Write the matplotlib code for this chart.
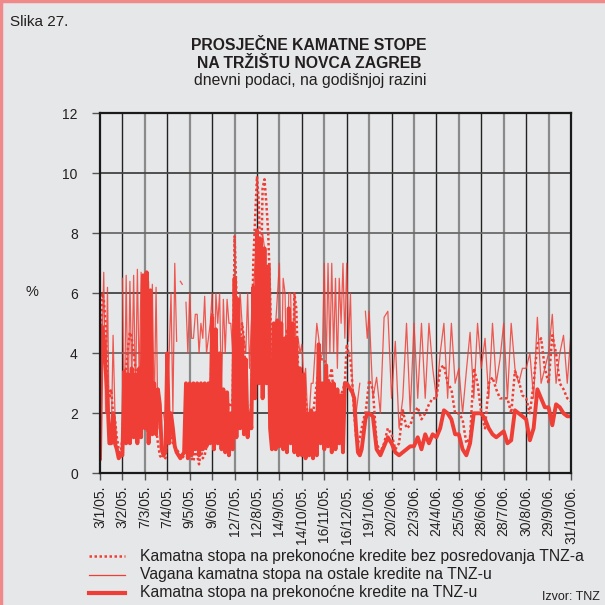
import numpy as np
import matplotlib
matplotlib.use("Agg")
import matplotlib.pyplot as plt
from matplotlib.lines import Line2D

plt.rcParams['font.family'] = ['Liberation Sans', 'DejaVu Sans']

nan = np.nan

tick_labels = ["3/1/05.", "3/2/05.", "7/3/05.", "7/4/05.", "9/5/05.", "9/6/05.",
               "12/7/05.", "12/8/05.", "14/9/05.", "14/10/05.", "16/11/05.",
               "16/12/05.", "19/1/06.", "20/2/06.", "22/3/06.", "24/4/06.",
               "25/5/06.", "28/6/06.", "28/7/06.", "30/8/06.", "29/9/06.", "31/10/06."]

# ---- first 12 tick intervals (12 readings per interval) ----
# Kamatna stopa na prekonoćne kredite na TNZ-u (thick)
thick_a = [0.5, 4.9, 4.5, 3.5, 2.5, 1.0, 1.0, 2.0, 1.0, 0.8, 0.5, 0.6,
           0.6, 3.4, 1.0, 3.3, 1.0, 3.5, 1.2, 3.3, 1.0, 3.5, 1.2, 6.6,
           1.5, 6.7, 1.0, 6.1, 1.3, 3.0, 1.3, 2.8, 2.3, 0.8, 0.6, 0.7,
           4.0, 1.0, 2.0, 1.5, 0.9, 0.7, 0.6, 0.5, 0.6, 0.7, 3.0, 0.5,
           3.0, 0.6, 3.0, 0.8, 3.0, 0.6, 3.0, 0.8, 3.0, 0.9, 3.0, 1.0,
           5.2, 0.8, 4.8, 1.0, 4.0, 0.8, 2.8, 0.7, 2.7, 0.6, 2.0, 0.8,
           6.5, 1.2, 5.8, 1.5, 4.5, 1.3, 3.8, 1.2, 2.0, 1.5, 6.2, 2.5,
           8.1, 3.0, 7.8, 2.5, 7.5, 3.0, 6.9, 1.5, 0.8, 5.0, 0.8, 5.1,
           0.9, 5.0, 0.8, 4.5, 0.7, 5.5, 1.0, 5.0, 0.7, 4.5, 0.6, 3.5,
           0.6, 3.3, 0.5, 2.0, 0.6, 2.1, 0.5, 2.0, 0.6, 4.3, 1.0, 3.0,
           0.8, 3.6, 0.9, 3.0, 0.7, 3.0, 0.8, 2.8, 1.0, 2.6, 0.7, 3.0,
           3.0, 2.9, 2.8, 2.7, 2.5, 1.5, 0.7, 0.6, 0.8, 1.3, 1.8, 2.0]

# Kamatna stopa na prekonoćne kredite bez posredovanja TNZ-a (dotted)
dotted_a = [0.4, 6.0, 5.8, 5.0, 3.0, 2.5, 2.8, 2.0, 1.8, 1.2, 0.8, 0.6,
            1.2, 3.0, 3.5, 4.2, 4.7, 4.5, 4.0, 3.5, 2.8, 2.5, 2.0, 2.0,
            2.2, 1.5, 1.2, 1.5, 2.5, 2.0, 1.5, 1.0, 0.6, 0.5, 0.6, 0.5,
            1.5, 1.3, 1.2, 1.0, 0.9, 0.8, 0.7, 0.6, 0.5, 0.6, 0.7, 0.6,
            0.6, 0.5, 0.4, 0.8, 0.6, 0.3, 0.8, 0.5, 0.6, 0.9, 1.5, 2.0,
            5.3, 4.0, 3.0, 2.8, 2.5, 2.0, 1.5, 1.8, 2.0, 2.3, 2.2, 2.5,
            7.9, 6.0, 4.5, 4.0, 5.0, 4.5, 3.0, 2.0, 1.5, 2.5, 7.0, 8.5,
            9.9, 9.0, 6.0, 9.5, 9.8, 9.0, 8.0, 6.0, 2.7, 3.5, 5.0, 4.5,
            4.0, 3.5, 2.5, 4.0, 4.8, 4.5, 3.0, 2.5, 6.0, 5.5, 3.5, 3.2,
            3.2, 3.0, 2.5, 2.0, 1.8, 1.5, 2.0, 2.5, 3.0, 3.5, 3.8, 3.8,
            3.8, 3.5, 3.0, 3.2, 3.5, 2.5, 2.0, 2.2, 2.5, 2.6, 2.8, 3.0,
            4.3, 4.0, 3.8, 3.0, 2.0, 1.2, 1.0, 1.2, 1.5, 1.8, 2.0, 2.5]

# Vagana kamatna stopa na ostale kredite na TNZ-u (thin)
thin_a = [6.0, 4.0, 6.7, 2.0, 6.2, 1.2, 1.0, 4.6, 2.0, 1.0, nan, nan,
          6.5, 1.5, 6.6, 2.0, 6.4, 3.0, 6.6, 2.5, 6.8, 3.0, 6.7, 3.0,
          6.7, 3.0, 6.4, 2.5, 6.3, 2.0, 6.2, 1.5, nan, nan, 2.0, 1.5,
          2.2, 4.0, 6.0, 2.0, 7.0, 4.4, nan, 6.4, 6.3, nan, 5.7, 4.0,
          6.0, 4.5, 4.5, 5.3, 5.3, 4.0, 5.0, 4.5, 5.9, 4.0, 4.5, 5.0,
          6.0, 3.0, 6.0, 5.0, 6.0, 2.5, 5.8, 4.0, 5.8, 5.0, 5.0, 4.0,
          6.5, 4.0, 5.5, 6.0, 5.0, 4.5, 4.0, 6.0, 3.5, 5.0, 6.0, 7.0,
          8.0, 7.0, 7.5, 8.0, 7.5, 6.5, 6.5, 7.0, 2.0, 4.0, 5.0, 6.0,
          7.0, 3.0, 6.5, 6.0, 2.5, 6.0, 6.0, 3.0, 6.0, 4.0, 4.5, 4.0,
          4.3, 3.0, 3.5, 2.0, 2.0, 3.0, 3.0, 4.0, 5.0, 4.5, 3.8, 4.0,
          7.0, 3.5, 7.0, 4.0, 7.0, 4.0, 6.5, 3.5, 6.5, 5.0, 7.0, 4.5,
          7.0, 4.4, 6.0, 3.0, 2.5, 2.0, 2.5, 3.0, nan, nan, 5.4, 4.5]

# ---- last 9 tick intervals (6 readings per interval, plus the final day) ----
thick_b = [2.0, 1.9, 0.8, 0.6, 0.9, 1.2,
           1.0, 0.7, 0.6, 0.7, 0.8, 0.9,
           0.9, 1.2, 0.8, 1.3, 1.0, 1.3,
           1.2, 1.5, 2.1, 2.0, 1.8, 1.3,
           1.3, 0.8, 0.6, 1.0, 2.0, 2.0,
           2.0, 1.8, 1.5, 1.3, 1.2, 1.3,
           1.4, 1.0, 1.1, 2.1, 2.0, 1.9,
           1.8, 1.1, 1.5, 2.8, 2.5, 2.2,
           2.2, 1.6, 2.3, 2.2, 2.0, 1.9,
           1.9]

dotted_b = [3.1, 2.8, 1.0, 0.7, 1.0, 1.5,
            1.3, 0.8, 1.0, 2.1, 1.5, 1.6,
            2.0, 2.2, 1.8, 2.0, 2.3, 2.5,
            2.5, 3.5, 3.6, 3.0, 2.8, 2.0,
            2.0, 1.8, 1.0, 1.2, 3.5, 3.0,
            2.0, 1.5, 3.0, 3.2, 2.8, 2.5,
            2.5, 2.5, 2.0, 3.4, 3.1, 2.6,
            2.5, 2.0, 3.0, 4.3, 4.5, 3.5,
            3.0, 4.6, 4.0, 3.0, 2.8, 2.5,
            2.4]

thin_b = [5.4, 2.5, 3.2, 2.0, 5.2, 5.4,
          2.5, 4.4, 1.5, 2.5, 5.0, 2.0,
          5.0, 2.5, 5.0, 2.5, 5.0, 3.5,
          2.5, 4.0, 5.0, 2.5, 5.0, 3.0,
          3.5, 2.0, 3.4, 4.7, 2.5, 5.0,
          3.5, 4.5, 2.5, 5.0, 3.0, 3.8,
          5.0, 2.5, 5.0, 3.5, 3.0, 3.5,
          3.5, 4.0, 2.5, 5.2, 3.0, 3.5,
          4.0, 5.3, 3.0, 4.0, 4.6, 3.0,
          4.7]

W, H = 605, 605
fig = plt.figure(figsize=(W / 100, H / 100), dpi=100)
bg = '#e6e7e8'
fig.patch.set_facecolor(bg)

ax = fig.add_axes([100 / W, 1 - 473.3 / H, 471 / W, 360 / H])
ax.set_facecolor(bg)

n_int = len(tick_labels) - 1
n_a = len(thick_a) // 12
x = np.concatenate([np.arange(len(thick_a)) / 12.0,
                    n_a + np.arange(len(thick_b)) / 6.0])
thick = np.array(thick_a + thick_b)
dotted = np.array(dotted_a + dotted_b)
thin = np.array(thin_a + thin_b)

red = '#ef3e36'
ax.plot(x, thin, color=red, lw=0.9, alpha=0.85, zorder=3)
ax.plot(x, dotted, color=red, lw=1.8, ls=(0, (1, 1)), zorder=4)
ax.plot(x, thick, color=red, lw=2.8, zorder=5)

ax.set_xlim(0, n_int)
ax.set_ylim(0, 12)

# grid
for i in range(1, n_int):
    c = '#222222' if i % 2 == 1 else '#8a8a8a'
    w = 1.0 if i % 2 == 1 else 1.6
    ax.axvline(i, color=c, lw=w, zorder=1)
for v in [2, 4, 6, 8, 10]:
    c = '#444444' if v in (2, 6, 10) else '#6a6a6a'
    ax.axhline(v, color=c, lw=1.3, zorder=1)

for s in ax.spines.values():
    s.set_color('#1a1a1a')
    s.set_linewidth(1.6)
    s.set_zorder(6)

ax.set_yticks(range(0, 13, 2))
ax.set_xticks(range(n_int + 1))
ax.set_xticklabels(tick_labels, rotation=90, fontsize=10, color='#231f20')
ax.tick_params(axis='y', length=6, width=1, color='#555555', pad=10,
               labelsize=10, labelcolor='#231f20')
ax.tick_params(axis='x', length=5, width=1, color='#555555', pad=4)

fig.text(32 / W, 1 - 292 / H, '%', fontsize=10.5, ha='center', va='center', color='#231f20')

# titles
fig.text(10 / W, 1 - 22 / H, 'Slika 27.', fontsize=11, ha='left', va='center', color='#231f20')
fig.text(309 / W, 1 - 45 / H, 'PROSJEČNE KAMATNE STOPE', fontsize=11.3, fontweight='bold',
         ha='center', va='center', color='#231f20')
fig.text(309 / W, 1 - 63 / H, 'NA TRŽIŠTU NOVCA ZAGREB', fontsize=11.3, fontweight='bold',
         ha='center', va='center', color='#231f20')
fig.text(310 / W, 1 - 81 / H, 'dnevni podaci, na godišnjoj razini', fontsize=11.3,
         ha='center', va='center', color='#231f20')

# legend
leg_rows = [
    ('Kamatna stopa na prekonoćne kredite bez posredovanja TNZ-a', dict(lw=1.8, ls=(0, (1, 1)))),
    ('Vagana kamatna stopa na ostale kredite na TNZ-u', dict(lw=0.9)),
    ('Kamatna stopa na prekonoćne kredite na TNZ-u', dict(lw=3.0)),
]
for k, (lab, st) in enumerate(leg_rows):
    yy = 1 - (556 + k * 18.5) / H
    fig.add_artist(Line2D([89 / W, 125 / W], [yy, yy], color=red, transform=fig.transFigure, **st))
    fig.text(140 / W, yy, lab, fontsize=11.3, ha='left', va='center', color='#231f20')

fig.text(600 / W, 1 - 597 / H, 'Izvor: TNZ', fontsize=9, ha='right', va='center', color='#231f20')

# border (top and left)
fig.add_artist(Line2D([1 / W, 1 / W], [0, 1], color='#f08a8a', lw=2.5, transform=fig.transFigure))
fig.add_artist(Line2D([0, 1], [1 - 1 / H, 1 - 1 / H], color='#f08a8a', lw=2.5, transform=fig.transFigure))

fig.savefig('out.png', dpi=100, facecolor=bg)
